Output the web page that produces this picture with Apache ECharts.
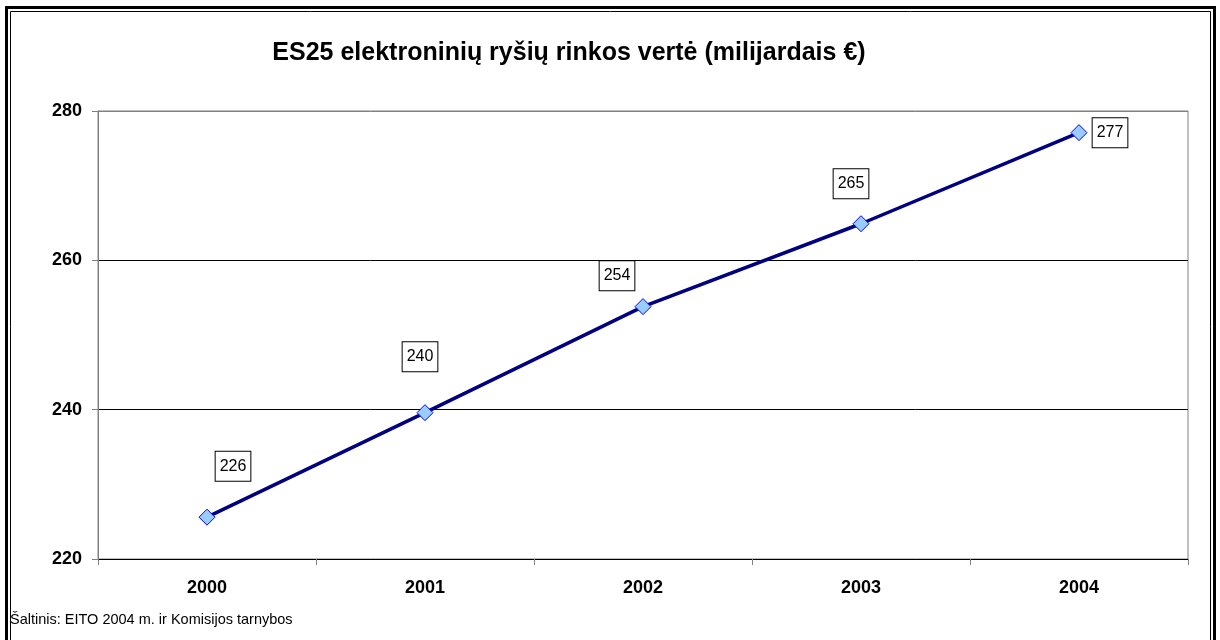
<!DOCTYPE html>
<html>
<head>
<meta charset="utf-8">
<script src="https://cdn.jsdelivr.net/npm/echarts@6/dist/echarts.min.js"></script>
<style>
  html, body { margin: 0; padding: 0; background: #fff; }
  #chart { width: 1220px; height: 640px; }
</style>
</head>
<body>
<div id="chart"></div>
<script>
(function() {
  var font = '"Liberation Sans", Arial, sans-serif';

  // --- data ---
  var years = ['2000', '2001', '2002', '2003', '2004'];
  var values = [225.6, 239.6, 253.8, 264.9, 277.1];
  var yTicks = [220, 240, 260, 280];
  // label box offsets (px) relative to each point
  var labelOffsets = [[26, -51], [-5, -56], [-26, -31], [-10, -40], [31, 0]];

  var chart = echarts.init(document.getElementById('chart'), null, { renderer: 'canvas' });

  var points = values.map(function(v, i) {
    return {
      value: v,
      label: { offset: labelOffsets[i] }
    };
  });

  var option = {
    animation: false,
    title: {
      text: 'ES25 elektroninių ryšių rinkos vertė (milijardais €)',
      left: 564,
      textAlign: 'center',
      top: 36,
      textStyle: { fontFamily: font, fontSize: 25, fontWeight: 'bold', color: '#000' }
    },
    grid: { left: 98, right: 32, top: 111, bottom: 81, show: true, borderColor: '#808080', borderWidth: 1 },
    xAxis: {
      type: 'category',
      data: years,
      boundaryGap: true,
      axisLine: { lineStyle: { color: '#000', width: 1 } },
      axisTick: { show: true, length: 6, lineStyle: { color: '#808080' } },
      axisLabel: { fontFamily: font, fontSize: 18, fontWeight: 'bold', color: '#000', margin: 20 },
      splitLine: { show: false }
    },
    yAxis: {
      type: 'value',
      min: yTicks[0],
      max: yTicks[yTicks.length - 1],
      interval: yTicks[1] - yTicks[0],
      axisLine: { show: true, lineStyle: { color: '#808080', width: 1 } },
      axisTick: { show: true, length: 6, lineStyle: { color: '#808080' } },
      axisLabel: { fontFamily: font, fontSize: 18, fontWeight: 'bold', color: '#000', margin: 16 },
      splitLine: { show: true, lineStyle: { color: ['#000', '#000', '#000', '#808080'], width: 1 } }
    },
    series: [{
      type: 'line',
      data: points,
      symbol: 'diamond',
      symbolSize: 16,
      lineStyle: { color: '#000080', width: 3.5 },
      itemStyle: { color: '#99ccff', borderColor: '#0000ff', borderWidth: 1 },
      label: {
        show: true,
        position: 'inside',
        formatter: function(p) { return Math.round(p.value); },
        fontFamily: font,
        fontSize: 16,
        lineHeight: 16,
        color: '#000',
        backgroundColor: '#fff',
        borderColor: '#000',
        borderWidth: 1,
        padding: [7, 4, 6, 4]
      },
      z: 3
    }],
    graphic: [
      { type: 'rect', shape: { x: 6.5, y: 7.5, width: 1208, height: 700 }, style: { fill: 'none', stroke: '#000', lineWidth: 3 }, silent: true },
      { type: 'rect', shape: { x: 10.5, y: 11.5, width: 1200, height: 700 }, style: { fill: 'none', stroke: '#000', lineWidth: 1 }, silent: true },
      {
        type: 'text', left: 10, top: 612,
        style: { text: 'Šaltinis: EITO 2004 m. ir Komisijos tarnybos', font: '14.5px ' + font, fill: '#000' }
      }
    ]
  };
  chart.setOption(option);
  window.addEventListener('resize', function() { chart.resize(); });
})();
</script>
</body>
</html>
